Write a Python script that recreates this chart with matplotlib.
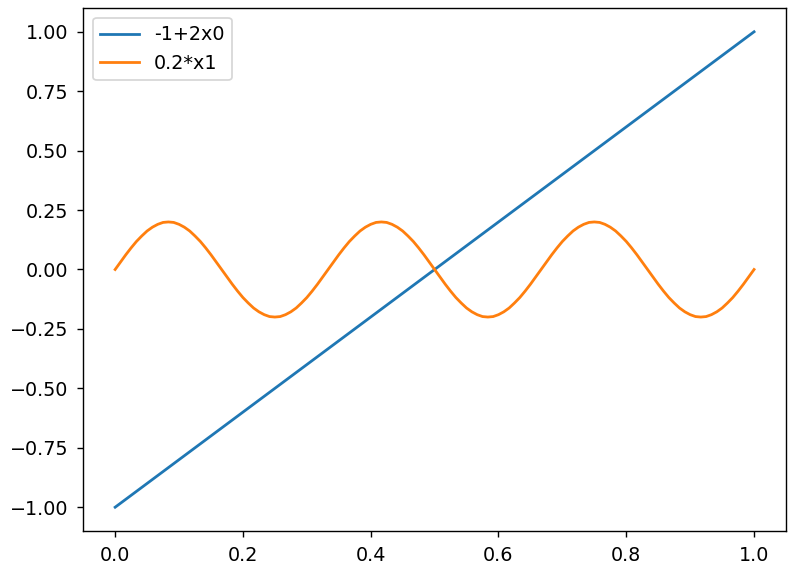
import matplotlib
matplotlib.use("Agg")
import matplotlib.pyplot as plt

# Blue series: straight line
line_x = [0.0, 1.0]
line_y = [-1.0, 1.0]

# Orange series: wave (x in steps of 1/120)
wave_x = [k / 120 for k in range(121)]
wave_y = [0.000, 0.031, 0.062, 0.091, 0.118, 0.141, 0.162, 0.178, 0.190, 0.198,
          0.200, 0.198, 0.190, 0.178, 0.162, 0.141, 0.118, 0.091, 0.062, 0.031,
          0.000, -0.031, -0.062, -0.091, -0.118, -0.141, -0.162, -0.178, -0.190, -0.198,
          -0.200, -0.198, -0.190, -0.178, -0.162, -0.141, -0.118, -0.091, -0.062, -0.031,
          0.000, 0.031, 0.062, 0.091, 0.118, 0.141, 0.162, 0.178, 0.190, 0.198,
          0.200, 0.198, 0.190, 0.178, 0.162, 0.141, 0.118, 0.091, 0.062, 0.031,
          0.000, -0.031, -0.062, -0.091, -0.118, -0.141, -0.162, -0.178, -0.190, -0.198,
          -0.200, -0.198, -0.190, -0.178, -0.162, -0.141, -0.118, -0.091, -0.062, -0.031,
          0.000, 0.031, 0.062, 0.091, 0.118, 0.141, 0.162, 0.178, 0.190, 0.198,
          0.200, 0.198, 0.190, 0.178, 0.162, 0.141, 0.118, 0.091, 0.062, 0.031,
          0.000, -0.031, -0.062, -0.091, -0.118, -0.141, -0.162, -0.178, -0.190, -0.198,
          -0.200, -0.198, -0.190, -0.178, -0.162, -0.141, -0.118, -0.091, -0.062, -0.031,
          0.000]

labels = ["-1+2x0", "0.2*x1"]

plt.rcParams["font.size"] = 11
plt.rcParams["xtick.major.pad"] = 5
plt.rcParams["ytick.major.pad"] = 5
plt.rcParams["lines.linewidth"] = 1.6

fig = plt.figure(figsize=(6.4, 4.576), dpi=125)
ax = fig.add_axes([0.104, 0.0717, 0.8785, 0.9143])
ax.plot(line_x, line_y, label=labels[0])
ax.plot(wave_x, wave_y, label=labels[1])
ax.set_yticks([-1.0, -0.75, -0.5, -0.25, 0.0, 0.25, 0.5, 0.75, 1.0])
ax.legend(loc="upper left")
fig.savefig("out.png", dpi=125)
